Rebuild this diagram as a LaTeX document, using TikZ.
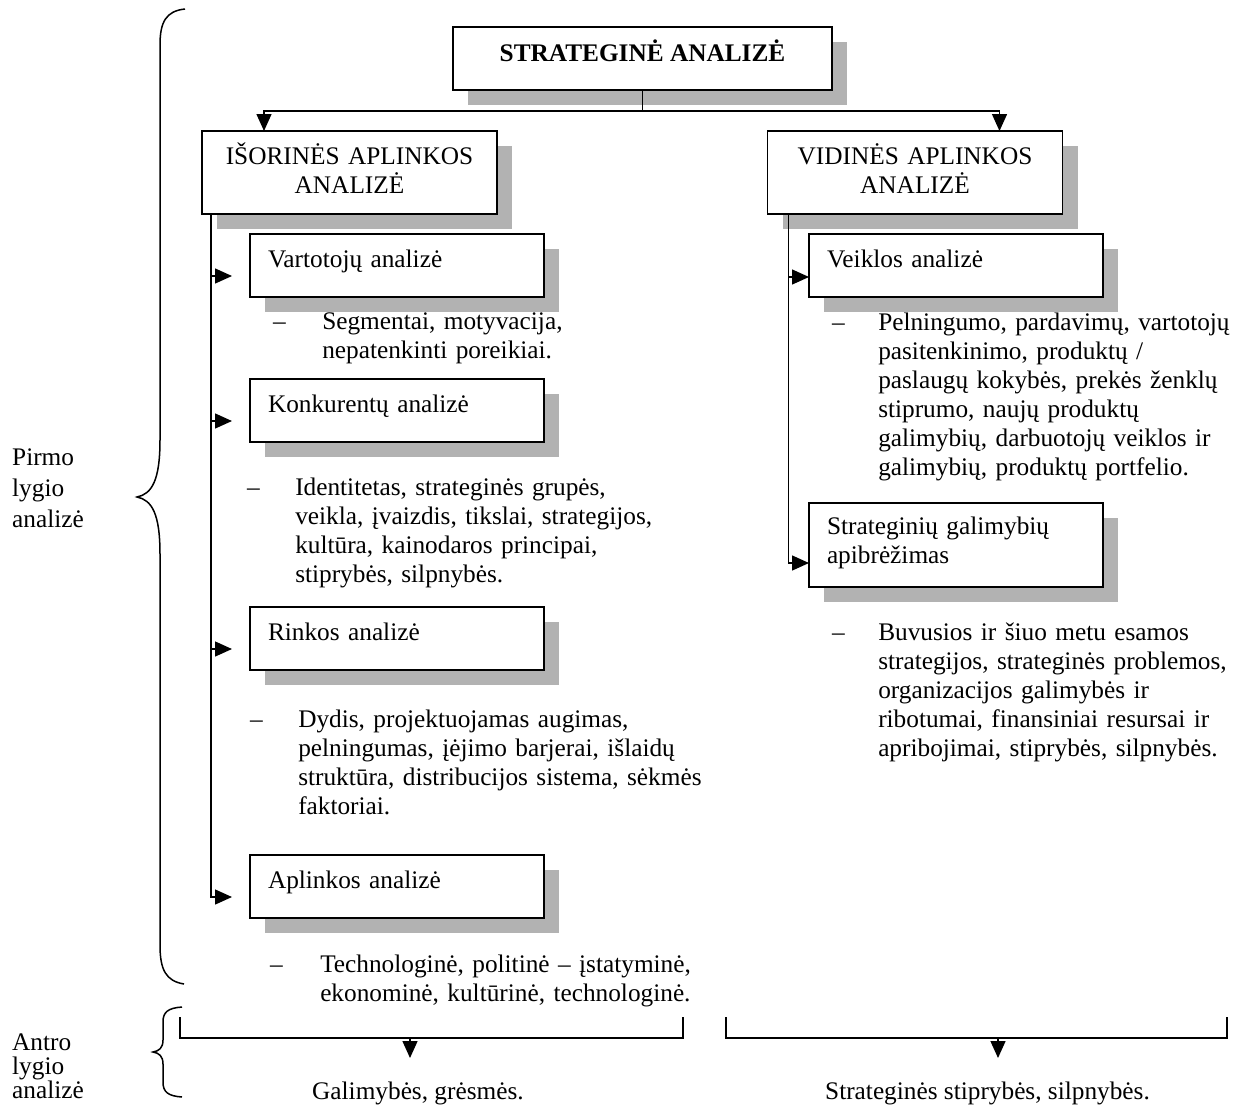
\documentclass[tikz,border=0pt]{standalone}
\usepackage{fontspec}
\setmainfont{Liberation Serif}
\usetikzlibrary{
	positioning,
	arrows.meta,
	shadows,
	calc
}

\tikzset{
	box/.style={draw,fill=white,line width=1.8pt,outer sep=0pt,
		drop shadow={shadow xshift=15pt,shadow yshift=-15pt,opacity=1,fill=black!30}},
	headbox/.style={box,minimum width=295pt,minimum height=83pt,
		text width=259pt,align=center,text depth=37pt},
	subbox/.style={box,minimum width=294pt,minimum height=63pt,
		text width=258pt,inner xsep=18pt,align=left,text depth=13pt},
	bul/.style={anchor=base west,inner sep=0pt},
	list/.style={anchor=base west,inner sep=0pt,text width=420pt,align=left},
	conn/.style={line width=1.4pt},
	arr/.style={conn,-{Triangle[length=17pt,width=15pt]}},
	brace/.style={line width=1.5pt}
}

\begin{document}
\begin{tikzpicture}[x=1pt,y=-1pt,font=\fontsize{25.3}{29}\selectfont]
    \useasboundingbox (0,0) rectangle (1238,1108);

    % boxes
    \node [box,minimum width=379pt,minimum height=63pt,text depth=15pt] (top) at (642.5,58.5) {\textbf{STRATEGINĖ ANALIZĖ}};
    \node [headbox] (out) at (349.5,172.5) {IŠORINĖS APLINKOS\\ANALIZĖ};
    \node [headbox] (in) at (915,172.5) {VIDINĖS APLINKOS\\ANALIZĖ};

    \node [subbox,anchor=north west] (vart) at (250,234) {Vartotojų analizė};
    \node [subbox,below=82pt of vart] (konk) {Konkurentų analizė};
    \node [subbox,below=165pt of konk] (rink) {Rinkos analizė};
    \node [subbox,below=185pt of rink] (aplink) {Aplinkos analizė};

    \node [subbox,anchor=north west] (veik) at (809,234) {Veiklos analizė};
    \node [subbox,minimum height=84pt,text depth=39pt,below=206pt of veik] (strat) {Strateginių galimybių\\apibrėžimas};

    % lists
    \node [bul] (segm-d) at (273,329) {–};
    \node [list,base right=36pt of segm-d] (segm) {Segmentai, motyvacija,\\nepatenkinti poreikiai.};
    \node [bul] (ident-d) at (247,495) {–};
    \node [list,base right=35pt of ident-d] (ident) {Identitetas, strateginės grupės,\\veikla, įvaizdis, tikslai, strategijos,\\kultūra, kainodaros principai,\\stiprybės, silpnybės.};
    \node [bul] (dydis-d) at (250,727) {–};
    \node [list,base right=35pt of dydis-d] (dydis) {Dydis, projektuojamas augimas,\\pelningumas, įėjimo barjerai, išlaidų\\struktūra, distribucijos sistema, sėkmės\\faktoriai.};
    \node [bul] (techn-d) at (270,972) {–};
    \node [list,base right=37pt of techn-d] (techn) {Technologinė, politinė – įstatyminė,\\ekonominė, kultūrinė, technologinė.};

    \node [bul] (peln-d) at (832,330) {–};
    \node [list,base right=33pt of peln-d] (peln) {Pelningumo, pardavimų, vartotojų\\pasitenkinimo, produktų /\\paslaugų kokybės, prekės ženklų\\stiprumo, naujų produktų\\galimybių, darbuotojų veiklos ir\\galimybių, produktų portfelio.};
    \node [bul] (buvus-d) at (832,640) {–};
    \node [list,base right=33pt of buvus-d] (buvus) {Buvusios ir šiuo metu esamos\\strategijos, strateginės problemos,\\organizacijos galimybės ir\\ribotumai, finansiniai resursai ir\\apribojimai, stiprybės, silpnybės.};

    % levels
    \node [list,text width=130pt,font=\fontsize{25.3}{31}\selectfont] (first) at (12,465) {Pirmo\\lygio\\analizė};
    \node [list,text width=130pt,font=\fontsize{25.3}{24}\selectfont] (second) at (12,1050) {Antro\\lygio\\analizė};
    \node [bul] (opp) at (312,1099) {Galimybės, grėsmės.};
    \node [bul] (strong) at (825,1099) {Strateginės stiprybės, silpnybės.};

    % connectors
    \coordinate (split) at ($(top.south)+(0,21)$);
    \draw[arr] (top.south) -- (split) -| ($(out.north west)+(62,0)$);
    \draw[arr] (split) -| ($(in.north west)+(232,0)$);

    \coordinate (ltrunk) at ($(out.south west)+(9,0)$);
    \coordinate (rtrunk) at ($(in.south west)+(21,0)$);
    \foreach \b in {vart,konk,rink,aplink}
        \coordinate (\b-in) at ($(\b.west)+(-18,10.5)$);
    \draw[arr] (ltrunk) |- (aplink-in);
    \foreach \b in {vart,konk,rink}
        \draw[arr] (ltrunk |- \b-in) -- (\b-in);

    \coordinate (veik-in) at ($(veik.west)+(0,11.5)$);
    \coordinate (strat-in) at ($(strat.west)+(0,18)$);
    \draw[arr] (rtrunk) |- (strat-in);
    \draw[arr] (rtrunk |- veik-in) -- (veik-in);

    % braces
    \draw[brace] (185,9) .. controls (166,11) and (160,22) .. (160,45) -- (160,440)
        .. controls (160,480) and (152,494) .. (137,497)
        .. controls (152,500) and (160,514) .. (160,554) -- (160,945)
        .. controls (160,970) and (166,981) .. (184,984);
    \draw[brace] (182,1007) .. controls (168,1008) and (163,1012) .. (163,1022) -- (163,1040)
        .. controls (163,1048) and (159,1051) .. (153,1052)
        .. controls (159,1053) and (163,1056) .. (163,1064) -- (163,1082)
        .. controls (163,1092) and (168,1096) .. (182,1097);

    % second level
    \coordinate (opp-top) at (410,1038);
    \coordinate (opp-tip) at (410,1058);
    \coordinate (strong-top) at (998,1038);
    \coordinate (strong-tip) at (998,1058);
    \draw[conn] (180,1017) |- (683,1038) -- (683,1017);
    \draw[conn] (726,1017) |- (1227,1038) -- (1227,1017);
    \draw[arr] (opp-top) -- (opp-tip);
    \draw[arr] (strong-top) -- (strong-tip);
\end{tikzpicture}
\end{document}
